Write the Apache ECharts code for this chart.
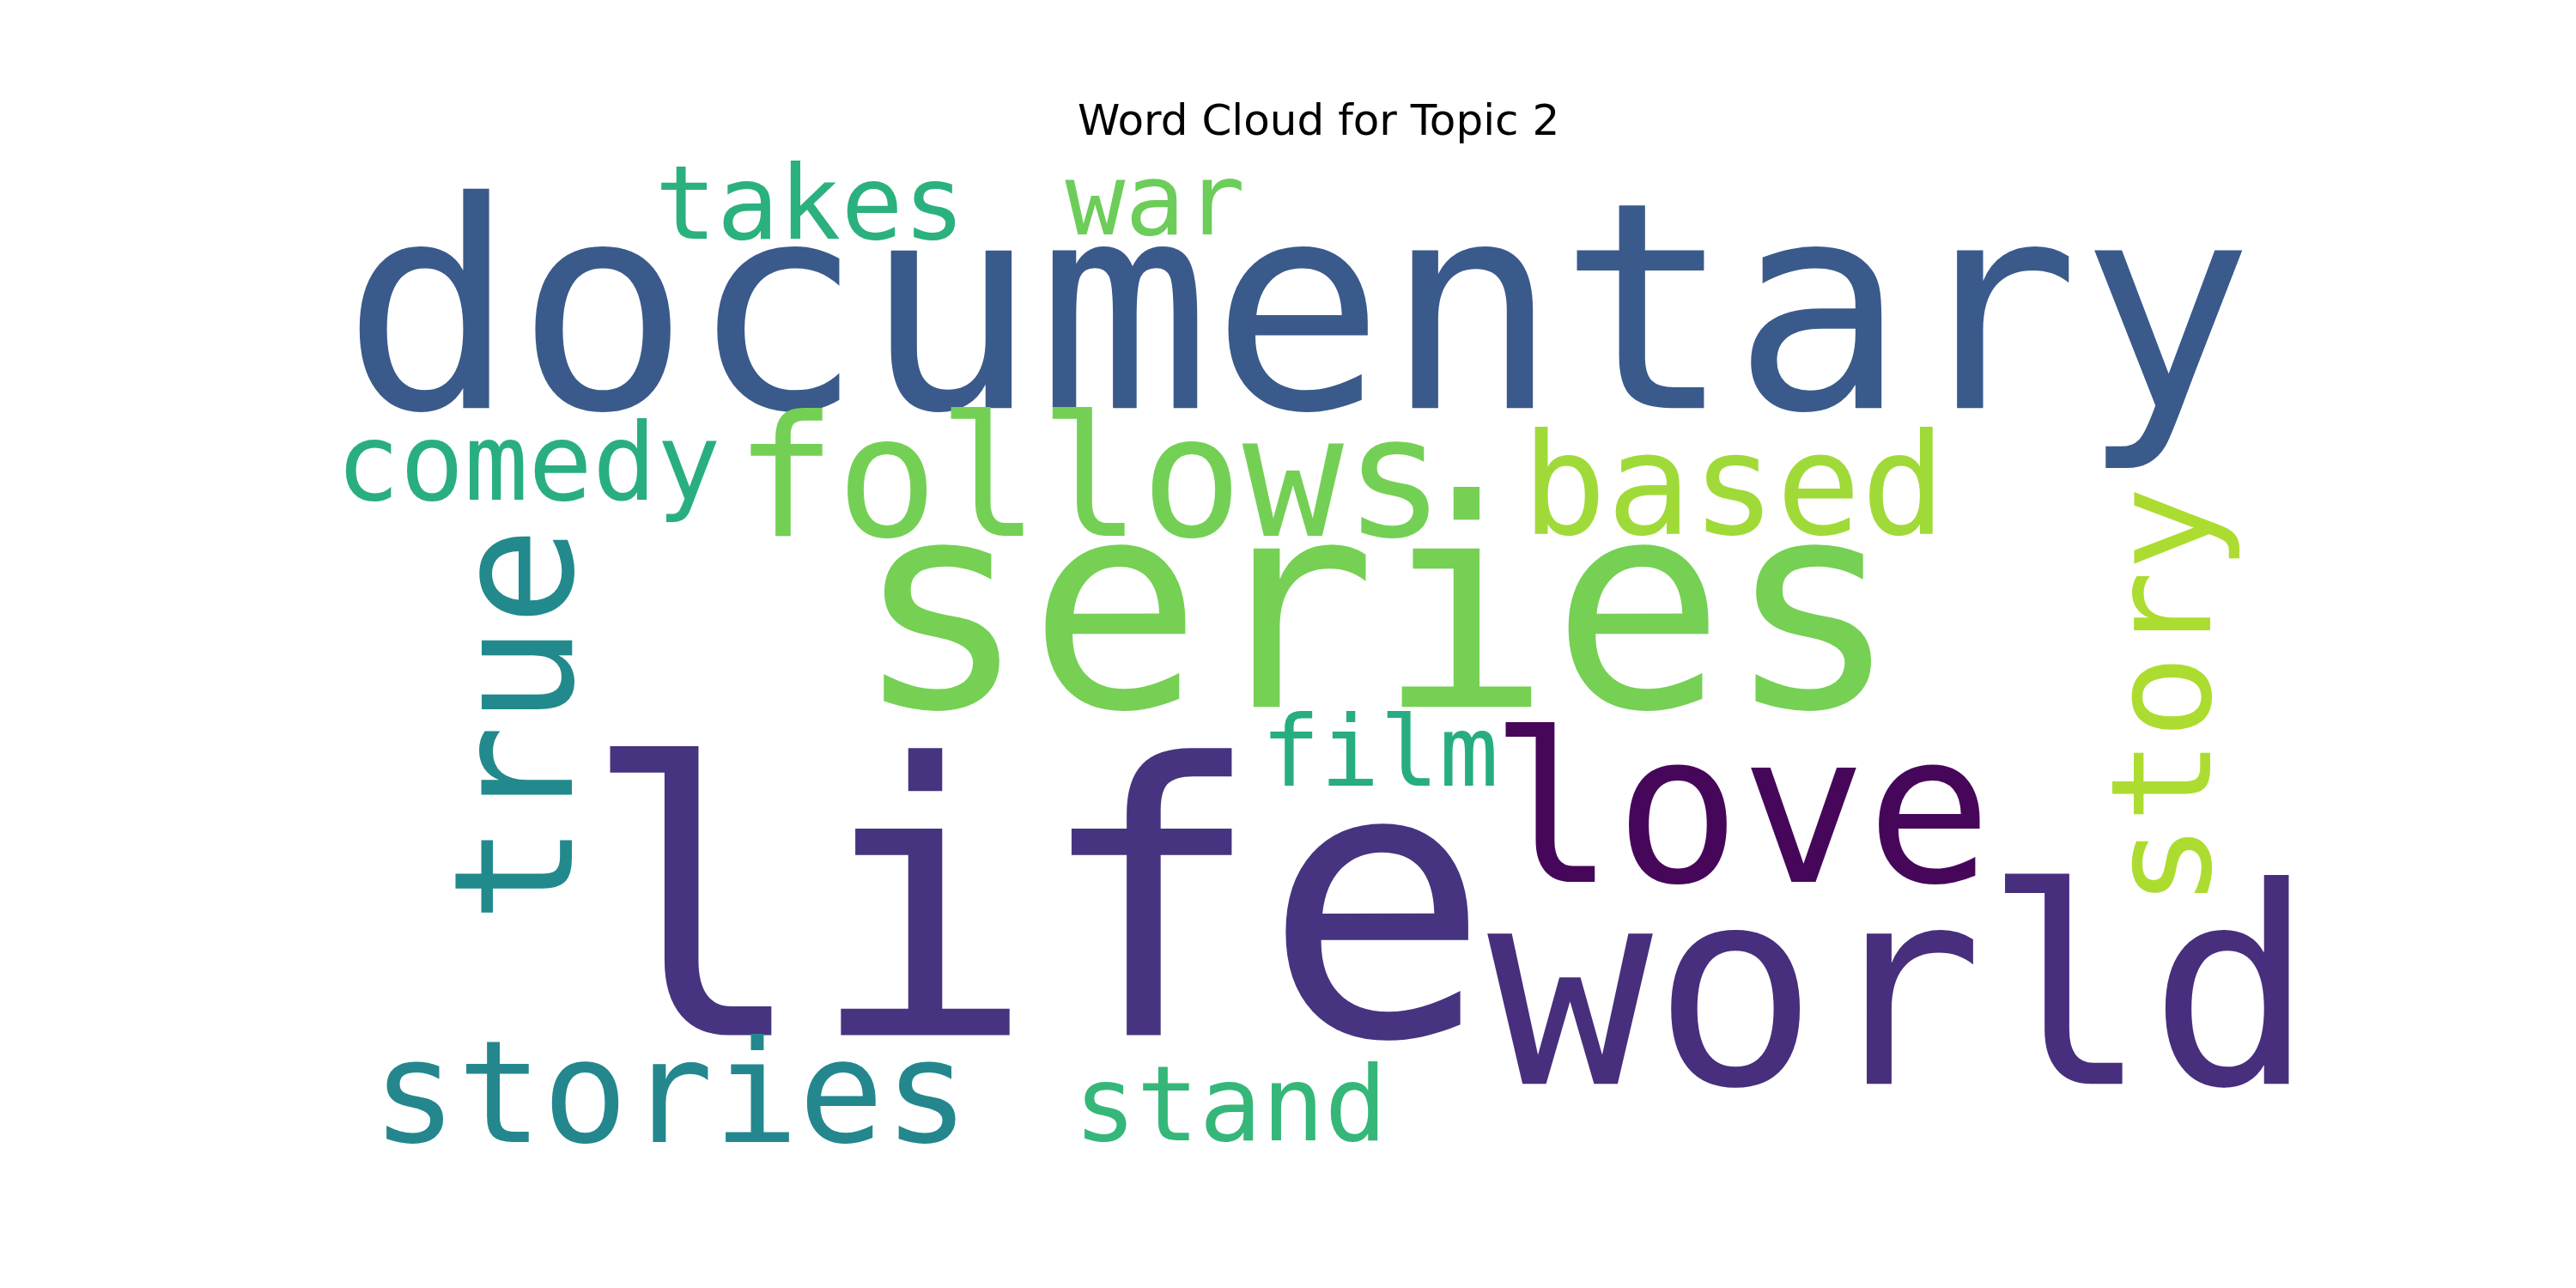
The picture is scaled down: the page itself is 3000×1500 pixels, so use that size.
<!DOCTYPE html>
<html>
<head>
<meta charset="utf-8">
<title>Word Cloud for Topic 2</title>
<script src="https://cdn.jsdelivr.net/npm/echarts@6/dist/echarts.min.js"></script>
<style>
  html, body { margin: 0; padding: 0; background: #ffffff; }
  #cloud { width: 3000px; height: 1500px; }
</style>
</head>
<body>
<div id="cloud"></div>
<script>
// words of the cloud
var words = ['documentary', 'life', 'world', 'series', 'follows', 'based', 'love',
             'true', 'story', 'comedy', 'takes', 'war', 'film', 'stories', 'stand'];
// word place in the 400x200 cloud canvas (centre of each word)
var wordX = [195.5, 142.6, 317.1, 211.4, 153.6, 283.4, 284.8, 40.4, 372.2, 40.3, 97.1, 166.7, 212.0, 69.0, 181.9];
var wordY = [36.0, 157.8, 173.0, 96.2, 68.1, 69.2, 135.8, 115.0, 109.4, 64.1, 11.5, 10.9, 122.1, 191.7, 193.4];
// font size of each word in cloud canvas units (bigger = more frequent)
var wordWeight = [58.2, 76.2, 55.4, 58.4, 34.0, 28.4, 42.1, 33.2, 28.2, 21.5, 20.8, 20.1, 19.9, 28.6, 21.0];
// 0 = horizontal, 90 = turned to read upwards
var wordTurn = [0, 0, 0, 0, 0, 0, 0, 90, 90, 0, 0, 0, 0, 0, 0];
var wordColors = ['#3a5a8b', '#463480', '#472f7d', '#75d054', '#74d055', '#a0da39', '#46075a',
                  '#228a8d', '#addc30', '#29af7f', '#2bb17e', '#6ccd5a', '#27ad81', '#24878e', '#35b779'];

var canvasW = 400, canvasH = 200;
// image box inside the figure (matplotlib axes, aspect kept)
var gridLeft = 382.5, gridTop = 180, gridW = 2310, gridH = 1155;
var unit = gridW / canvasW;

var chart = echarts.init(document.getElementById('cloud'), null, { renderer: 'canvas' });

var data = [];
for (var i = 0; i < words.length; i++) {
	data.push({
		name: words[i],
		value: [wordX[i], wordY[i]],
		label: {
			formatter: words[i],
			fontSize: wordWeight[i] * unit,
			rotate: wordTurn[i],
			color: wordColors[i],
			opacity: 1
		}
	});
}

var option = {
	backgroundColor: '#ffffff',
	animation: false,
	title: {
		text: 'Word Cloud for Topic 2',
		left: 1250,
		top: 114,
		textStyle: {
			fontFamily: 'DejaVu Sans',
			fontSize: 50,
			fontWeight: 'normal',
			color: '#000000'
		}
	},
	grid: { left: gridLeft, top: gridTop, width: gridW, height: gridH, containLabel: false },
	xAxis: { type: 'value', min: 0, max: canvasW, show: false },
	yAxis: { type: 'value', min: 0, max: canvasH, inverse: true, show: false },
	series: [{
		type: 'scatter',
		symbol: 'circle',
		symbolSize: 1,
		itemStyle: { color: 'rgba(0,0,0,0)', opacity: 1 },
		silent: true,
		emphasis: { disabled: true },
		label: {
			show: true,
			position: 'inside',
			align: 'center',
			verticalAlign: 'middle',
			fontFamily: 'DejaVu Sans Mono',
			opacity: 1
		},
		data: data
	}]
};
chart.setOption(option);
</script>
</body>
</html>
